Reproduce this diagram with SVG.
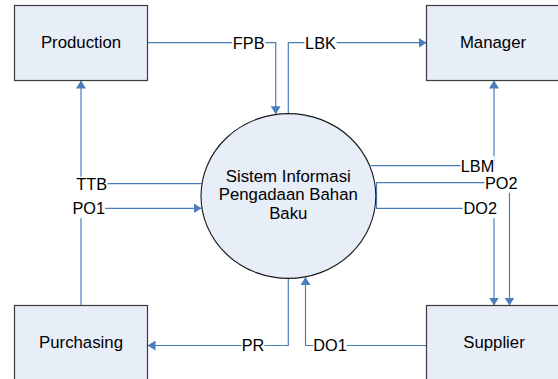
<svg xmlns="http://www.w3.org/2000/svg" width="558" height="379" viewBox="0 0 558 379">
  <style>
    .box { fill: #e8eef8; stroke: #3a3a3a; stroke-width: 1.2; }
    .proc { fill: #e8eef8; stroke: #1a1a1a; stroke-width: 1.1; }
    .txt { font-family: "Liberation Sans", Arial, sans-serif; font-size: 16.3px; fill: #000; text-anchor: middle; }
    .name { font-size: 16.8px; }
    .flow { fill: none; stroke: #4a7ebb; stroke-width: 1.2; }
    .arrow { fill: none; stroke: #4a7ebb; stroke-width: 1.2; marker-end: url(#head); }
    .lblbg { fill: #ffffff; stroke: none; }
  </style>
  <defs>
    <marker id="head" markerUnits="userSpaceOnUse" viewBox="0 0 8 10" refX="8" refY="5" markerWidth="8" markerHeight="10" orient="auto">
      <path d="M0,0 L8,5 L0,10 Z" fill="#4a7ebb"/>
    </marker>
  </defs>
  <rect width="558" height="379" fill="#ffffff"/>

  <!-- data flows -->
  <g id="connectors">
    <path class="arrow" d="M147.5,42.7 H275.7 V114.3"/>
    <path class="arrow" d="M288.3,113.7 V42.7 H426.5"/>
    <path class="arrow" d="M202,183.7 H81 V80.5"/>
    <path class="arrow" d="M81,305.5 V208.3 H201.5"/>
    <path class="arrow" d="M370.8,165.7 H494 V80.5"/>
    <path class="arrow" d="M376.5,196 V182.7 H509.5 V305.5"/>
    <path class="arrow" d="M376.5,196 V208.3 H494 V305.5"/>
    <path class="arrow" d="M288.3,278.3 V345.5 H147.5"/>
    <path class="arrow" d="M426.5,345.5 H305.5 V277"/>

    <!-- flow labels -->
    <g id="lbl-fpb"><rect class="lblbg" x="232" y="33.7" width="33.3" height="19"/><text class="txt" x="248.7" y="48.6">FPB</text></g>
    <g id="lbl-lbk"><rect class="lblbg" x="304.4" y="33.7" width="32.2" height="19"/><text class="txt" x="320.5" y="48.6">LBK</text></g>
    <g id="lbl-ttb"><rect class="lblbg" x="75.7" y="176.7" width="31.9" height="17"/><text class="txt" x="91.7" y="189.6">TTB</text></g>
    <g id="lbl-po1"><rect class="lblbg" x="72.5" y="199.3" width="32.6" height="19"/><text class="txt" x="88.8" y="214.2">PO1</text></g>
    <g id="lbl-lbm"><rect class="lblbg" x="460.4" y="156" width="34.2" height="19"/><text class="txt" x="477.5" y="171.6">LBM</text></g>
    <g id="lbl-po2"><rect class="lblbg" x="484.5" y="173.7" width="33.6" height="19"/><text class="txt" x="501.3" y="188.6">PO2</text></g>
    <g id="lbl-do2"><rect class="lblbg" x="462.8" y="199.3" width="35" height="19"/><text class="txt" x="480.3" y="214.2">DO2</text></g>
    <g id="lbl-pr"><rect class="lblbg" x="241.7" y="336.5" width="22.6" height="19"/><text class="txt" x="253" y="351.4">PR</text></g>
    <g id="lbl-do1"><rect class="lblbg" x="313.4" y="336.5" width="33.2" height="19"/><text class="txt" x="330" y="351.4">DO1</text></g>
  </g>

  <!-- external entities -->
  <g id="production">
    <rect class="box" x="14.5" y="5.5" width="133" height="75"/>
    <text class="txt name" x="81" y="48.3">Production</text>
  </g>
  <g id="manager">
    <rect class="box" x="426.5" y="5.5" width="133" height="75"/>
    <text class="txt name" x="493" y="48.3">Manager</text>
  </g>
  <g id="purchasing">
    <rect class="box" x="14.5" y="305.5" width="133" height="75"/>
    <text class="txt name" x="81" y="348.3">Purchasing</text>
  </g>
  <g id="supplier">
    <rect class="box" x="426.5" y="305.5" width="133" height="75"/>
    <text class="txt name" x="494" y="348.3">Supplier</text>
  </g>

  <!-- central process -->
  <g id="sistem">
    <ellipse class="proc" cx="288.4" cy="196" rx="87.4" ry="82.4"/>
    <text class="txt name" x="288.3" y="181.8">Sistem Informasi</text>
    <text class="txt name" x="288.3" y="200.4">Pengadaan Bahan</text>
    <text class="txt name" x="288.3" y="219">Baku</text>
  </g>
</svg>
